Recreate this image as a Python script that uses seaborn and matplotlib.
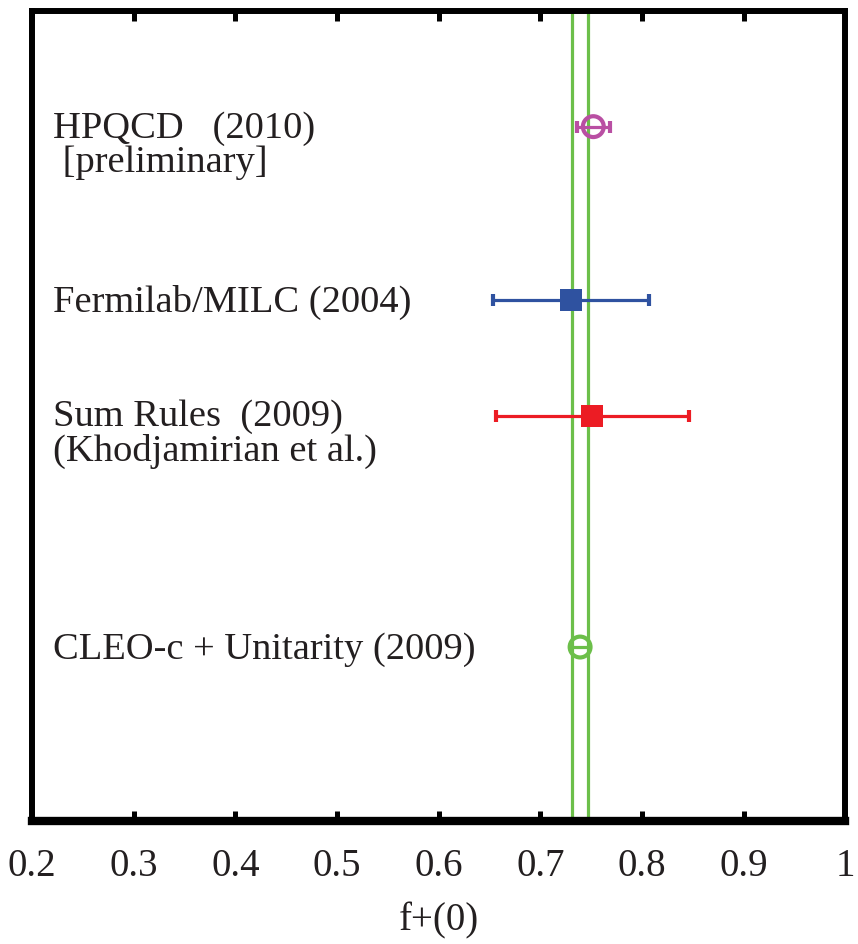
import matplotlib
matplotlib.use("Agg")
import matplotlib.pyplot as plt
import seaborn as sns
import pandas as pd

# ---- data ----
experiments = ["HPQCD", "Fermilab/MILC", "Sum Rules", "CLEO-c + Unitarity"]
f0_values = [0.752, 0.730, 0.751, 0.739]
f0_err_lo = [0.016, 0.077, 0.095, 0.008]
f0_err_hi = [0.016, 0.077, 0.095, 0.008]
row_pos = [6.0, 4.5, 3.5, 1.5]
label_line1 = ["HPQCD   (2010)", "Fermilab/MILC (2004)", "Sum Rules  (2009)", "CLEO-c + Unitarity (2009)"]
label_line2 = [" [preliminary]", "", "(Khodjamirian et al.)", ""]
band_edges = [0.731, 0.747]
x_ticks = [0.2, 0.3, 0.4, 0.5, 0.6, 0.7, 0.8, 0.9, 1.0]
x_ticklabels = ["0.2", "0.3", "0.4", "0.5", "0.6", "0.7", "0.8", "0.9", "1"]

colors = ["#b94fa3", "#2f52a0", "#ec1c24", "#6cbf4a"]
markers = ["o", "s", "s", "o"]
filled = [False, True, True, False]

sns.set_theme(style="white")
plt.rcParams["font.family"] = ["Liberation Serif", "DejaVu Serif"]

fig = plt.figure(figsize=(8.58, 9.44), dpi=100)
ax = fig.add_axes([32 / 858, (944 - 820.5) / 944, (845.5 - 32) / 858, (820.5 - 11) / 944])

df = pd.DataFrame({"exp": experiments, "f0": f0_values, "y": row_pos})

# band lines
for xb in band_edges:
    ax.axvline(xb, color="#6cbf4a", lw=2.3, zorder=1)

# error bars
for i in range(len(experiments)):
    ax.errorbar(f0_values[i], row_pos[i],
                xerr=[[f0_err_lo[i]], [f0_err_hi[i]]],
                fmt="none", ecolor=colors[i], elinewidth=2.3,
                capsize=4.6 if i < 3 else 0, capthick=3, zorder=2)

# markers via seaborn
for i in range(len(experiments)):
    sub = df.iloc[[i]]
    if filled[i]:
        sns.scatterplot(data=sub, x="f0", y="y", marker=markers[i], s=16 ** 2,
                        color=colors[i], edgecolor=colors[i], linewidth=0,
                        ax=ax, zorder=3, legend=False)
    else:
        sns.scatterplot(data=sub, x="f0", y="y", marker=markers[i], s=15 ** 2,
                        facecolor="none", edgecolor=colors[i], linewidth=3,
                        ax=ax, zorder=3, legend=False)

# labels: first-line baseline 12 px below the marker row, lines ~33.5 px apart
for i in range(len(experiments)):
    two = bool(label_line2[i])
    txt = label_line1[i] + ("\n" + label_line2[i] if two else "")
    off_px = -12 - (33.5 if two else 0)
    ax.annotate(txt, xy=(0.026, row_pos[i]), xycoords=("axes fraction", "data"),
                xytext=(0, off_px * 0.72), textcoords="offset points",
                fontsize=27.7, va="baseline", ha="left", color="#231f20",
                linespacing=1.0)

ax.set_xlim(0.2, 1.0)
ax.set_ylim(0, 7)
ax.set_xticks(x_ticks)
ax.set_xticklabels(x_ticklabels)
ax.set_yticks([])
ax.set_xlabel("f+(0)", fontsize=28, color="#231f20")
ax.xaxis.set_label_coords(0.5, -0.101)
ax.set_ylabel("")
ax.tick_params(axis="x", direction="in", top=True, bottom=True, length=7, width=3.6,
               color="black", labelsize=28, pad=20, labelcolor="#231f20")
for side in ["left", "right", "top"]:
    ax.spines[side].set_linewidth(4.3)
    ax.spines[side].set_color("black")
ax.spines["bottom"].set_linewidth(6.0)
ax.spines["bottom"].set_color("black")
ax.grid(False)

fig.savefig("out.png", dpi=100)
